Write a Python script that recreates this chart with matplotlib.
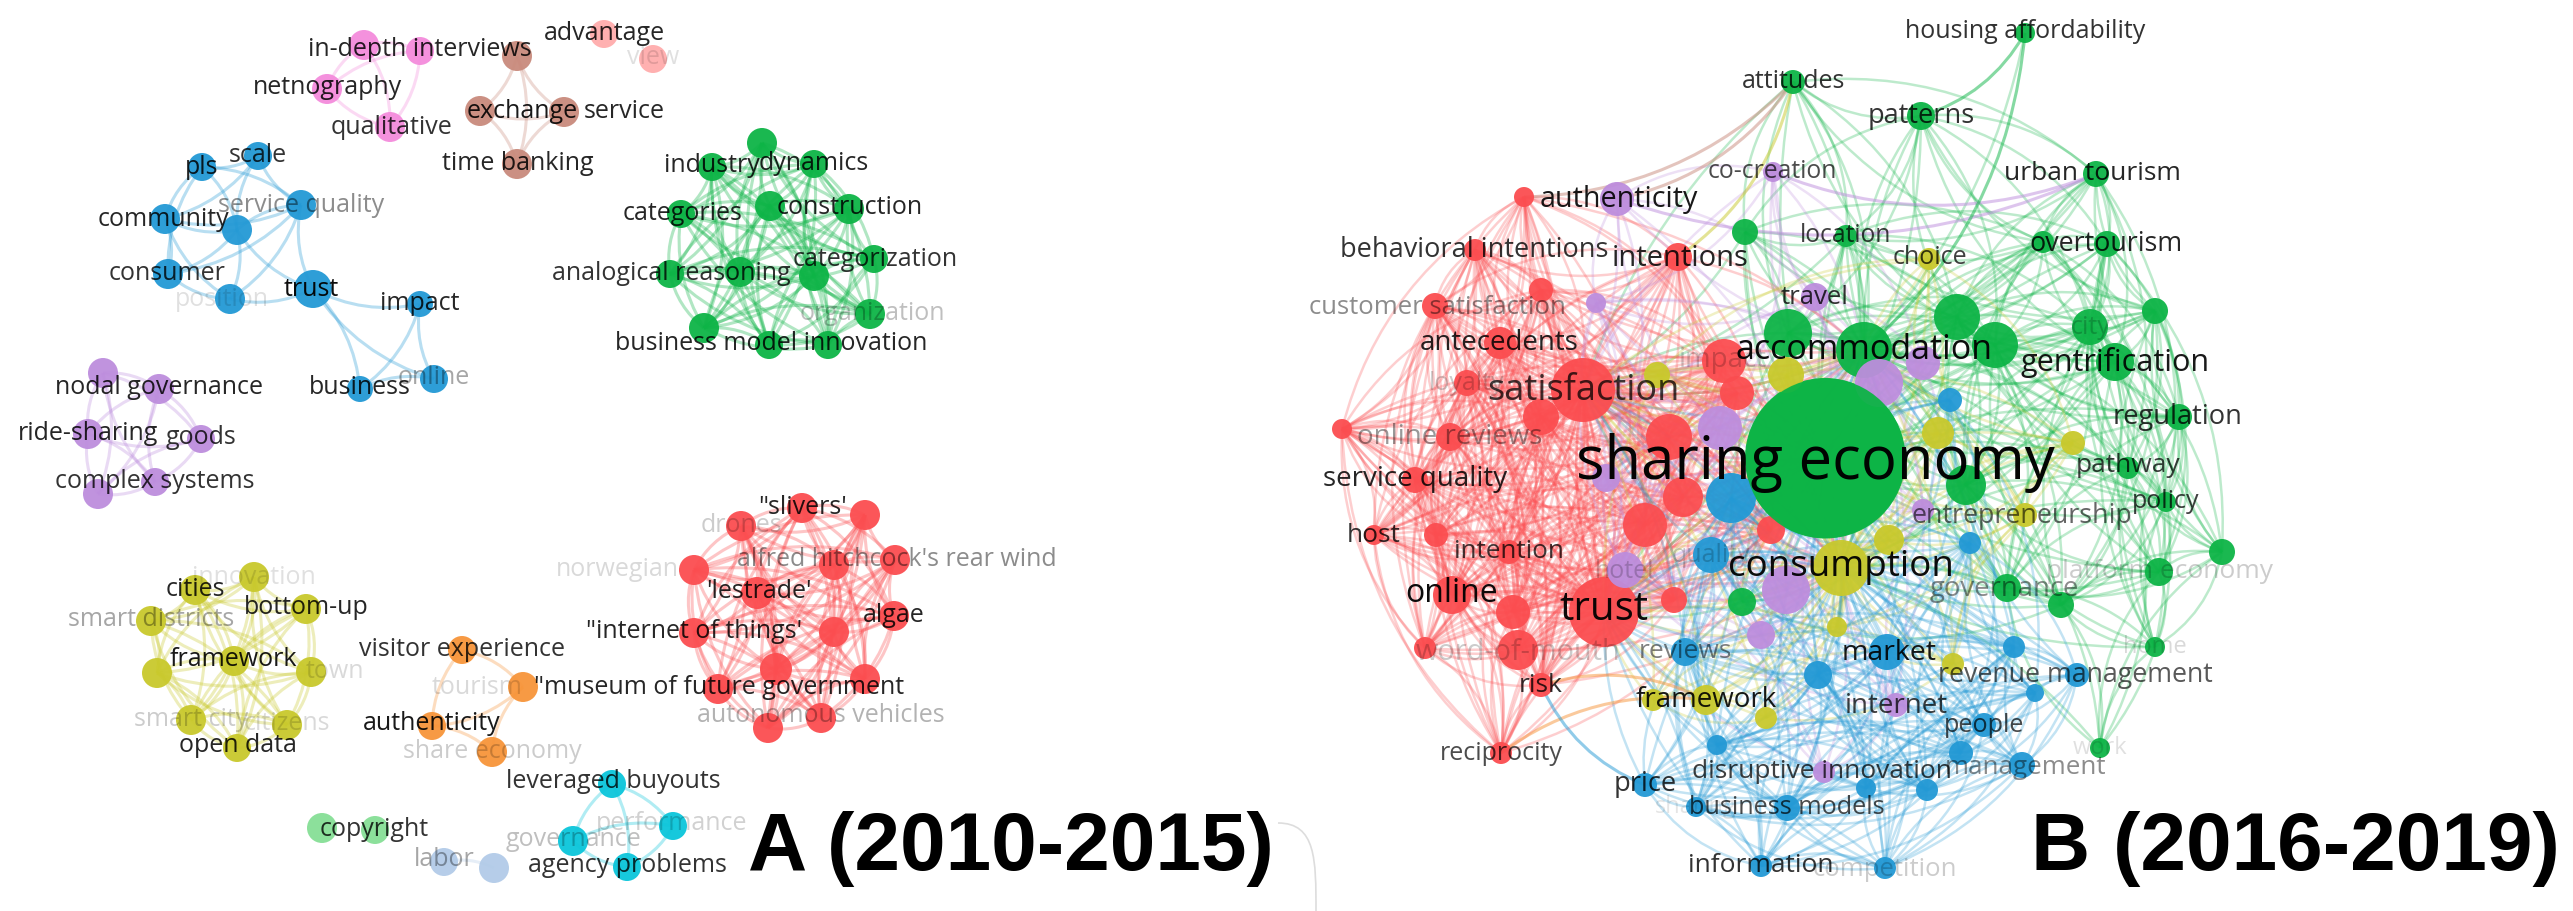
import itertools
import matplotlib
matplotlib.use("Agg")
import matplotlib.pyplot as plt
import numpy as np
from matplotlib.collections import PathCollection
from matplotlib.path import Path
from matplotlib.patches import PathPatch

plt.rcParams['font.family'] = ['Open Sans', 'DejaVu Sans']

COLORS = {
    "red": "#fb4d50", "green": "#0db446", "blue": "#2399d5", "yellow": "#c9c92c",
    "purple": "#bd8ddd", "cyan": "#0ac5da", "orange": "#f7953a", "brown": "#c98a7c",
    "pink": "#f48bdc", "salmon": "#ffacac", "lgreen": "#86df96", "lblue": "#b2cbe8",
}

# panel A clusters (x, y, radius)
a_pink = ([364, 420, 327, 390], [45, 51, 89, 127], [15, 14, 15, 15])
a_salmon = ([604, 653], [34, 59], [14, 14])
a_brown = ([517, 480, 564, 517], [56, 111, 112, 164], [15, 15, 15, 15])
a_blue = ([258, 202, 301, 165, 237, 168, 313, 230, 420, 360, 434],
          [156, 167, 205, 219, 230, 274, 289, 299, 304, 389, 379],
          [14, 14, 15, 15, 15, 15, 19, 15, 13, 13, 14])
a_green = ([762, 712, 814, 681, 770, 849, 874, 670, 740, 814, 870, 704, 769, 828],
           [143, 167, 164, 214, 206, 209, 259, 274, 272, 276, 314, 328, 345, 345],
           [15, 14, 14, 14, 15, 15, 14, 14, 15, 15, 15, 15, 14, 14])
a_purple = ([103, 159, 88, 201, 155, 98], [373, 389, 434, 439, 482, 494], [15, 15, 15, 14, 14, 15])
a_yellow = ([254, 195, 306, 151, 157, 234, 311, 191, 287, 237],
            [577, 590, 609, 621, 673, 661, 672, 720, 725, 748],
            [15, 15, 15, 15, 15, 15, 15, 15, 15, 14])
a_orange = ([462, 523, 432, 492], [650, 687, 726, 752], [14, 15, 14, 15])
a_red = ([802, 865, 741, 694, 834, 895, 757, 894, 694, 834, 776, 865, 718, 821, 768],
         [508, 515, 526, 570, 565, 560, 593, 616, 633, 632, 669, 679, 689, 718, 728],
         [15, 15, 15, 15, 15, 15, 16, 15, 15, 15, 16, 15, 15, 15, 15])
a_cyan = ([612, 673, 573, 627], [784, 826, 841, 867], [14, 14, 15, 14])
a_lgreen = ([322, 375], [828, 830], [15, 14])
a_lblue = ([444, 494], [862, 868], [14, 15])

a_blue_edges = [(0, 1), (0, 2), (0, 3), (0, 4), (1, 2), (1, 3), (1, 4), (1, 5), (2, 3), (2, 4), (2, 5),
                (2, 6), (2, 7), (3, 4), (3, 5), (3, 7), (4, 5), (4, 6), (4, 7), (5, 7), (6, 7),
                (6, 8), (6, 9), (6, 10), (8, 9), (8, 10), (9, 10)]
a_pink_edges = [(0, 1), (0, 2), (0, 3), (1, 2), (1, 3), (2, 3)]
a_orange_edges = [(0, 1), (0, 2), (1, 2), (1, 3), (2, 3)]

a_labels = ["in-depth interviews", "netnography", "qualitative", "advantage", "view", "exchange", "service",
            "time banking", "scale", "pls", "service quality", "community", "consumer", "trust", "position",
            "impact", "business", "online", "industry", "dynamics", "categories", "construction",
            "categorization", "analogical reasoning", "organization", "business model innovation",
            "nodal governance", "ride-sharing", "goods", "complex systems", "innovation", "cities", "bottom-up",
            "smart districts", "framework", "town", "smart city", "citizens", "open data", "visitor experience",
            "tourism", "\"museum of future government", "authenticity", "share economy", "\"slivers'", "drones",
            "alfred hitchcock's rear wind", "norwegian", "'lestrade'", "algae", "\"internet of things'",
            "autonomous vehicles", "leveraged buyouts", "performance", "governance", "agency problems",
            "copyright", "labor"]
a_label_x = [420, 327, 392, 604, 653, 522, 624, 518, 258, 202, 301, 163, 167, 311, 222, 420, 360, 434, 712,
             814, 683, 850, 875, 671, 872, 771, 159, 88, 201, 155, 254, 195, 306, 151, 233, 335, 191, 287,
             238, 462, 477, 719, 432, 492, 802, 741, 897, 617, 759, 894, 694, 821, 613, 672, 573, 627, 374, 444]
a_label_y = [49, 88, 127, 33, 58, 112, 112, 163, 155, 167, 205, 219, 273, 289, 299, 303, 388, 378, 166, 163,
             213, 208, 259, 273, 313, 343, 388, 433, 438, 482, 577, 589, 608, 620, 659, 672, 719, 724, 746,
             649, 687, 687, 724, 752, 507, 525, 559, 570, 592, 616, 632, 715, 782, 824, 840, 866, 829, 860]
a_label_alpha = [.85, .85, .8, .85, .12, .9, .85, .85, .8, .85, .45, .85, .8, .95, .12, .85, .85, .35, .85,
                 .85, .85, .85, .8, .8, .25, .85, .85, .85, .8, .8, .12, .85, .85, .35, .9, .15, .2, .15, .85,
                 .8, .15, .85, .9, .2, .85, .2, .45, .15, .85, .85, .85, .3, .8, .18, .25, .8, .8, .35]
a_label_size = [18] * len(a_labels)

# panel B clusters (x, y, radius)
b_green = ([2025, 1793, 1921, 2096, 1745, 1846, 2043, 2107, 2155, 2090, 1957, 1788, 1864, 1995, 2115, 2179,
            1825, 2128, 1966, 2166, 2222, 2159, 2007, 2061, 1742, 2155, 2100],
           [33, 82, 116, 174, 232, 236, 242, 244, 311, 327, 317, 333, 350, 345, 362, 417,
            458, 468, 485, 502, 552, 572, 588, 605, 602, 647, 748],
           [10, 12, 14, 13, 13, 11, 11, 13, 13, 18, 23, 24, 28, 23, 19, 13,
            80, 11, 20, 10, 13, 14, 14, 13, 14, 10, 10])
b_red = ([1524, 1475, 1678, 1541, 1435, 1500, 1724, 1467, 1583, 1541, 1737, 1342, 1450, 1669, 1415, 1683, 1645,
          1771, 1436, 1374, 1509, 1452, 1604, 1513, 1674, 1518, 1425, 1541, 1501],
         [197, 250, 257, 290, 306, 343, 361, 383, 390, 417, 393, 429, 437, 437, 480, 497, 525,
          530, 535, 535, 552, 595, 612, 612, 600, 650, 648, 685, 753],
         [10, 11, 14, 12, 13, 16, 22, 13, 32, 18, 17, 10, 14, 23, 13, 20, 22,
          14, 12, 10, 12, 19, 35, 17, 13, 20, 11, 12, 11])
b_purple = ([1773, 1617, 1596, 1815, 1923, 1879, 1720, 1606, 1923, 1625, 1786, 1761, 1896, 1824],
            [172, 199, 303, 297, 363, 383, 428, 478, 510, 570, 590, 635, 705, 772],
            [10, 17, 10, 14, 17, 24, 22, 14, 11, 18, 24, 14, 12, 11])
b_yellow = ([1929, 1657, 1786, 1938, 2073, 2025, 1889, 1841, 1837, 1953, 1706, 1653, 1766],
            [259, 375, 375, 433, 443, 515, 540, 568, 627, 664, 700, 700, 718],
            [11, 13, 18, 16, 12, 12, 15, 28, 10, 11, 15, 11, 11])
b_blue = ([1950, 1731, 1970, 1711, 1685, 1887, 2014, 1818, 2077, 2035, 1984, 1961, 1717, 2022, 1866, 1927, 1645,
           1696, 1787, 1761, 1885],
          [400, 498, 543, 555, 652, 652, 647, 675, 675, 693, 725, 753, 745, 765, 788, 790, 785,
           807, 808, 866, 868],
          [12, 25, 11, 18, 14, 18, 11, 14, 12, 9, 12, 12, 10, 13, 10, 11, 12, 10, 13, 11, 11])

b_labels = ["housing affordability", "attitudes", "patterns", "co-creation", "urban tourism", "authenticity",
            "location", "overtourism", "behavioral intentions", "intentions", "choice", "customer satisfaction",
            "travel", "city", "antecedents", "accommodation", "impact", "gentrification", "loyalty",
            "satisfaction", "regulation", "online reviews", "sharing economy", "pathway", "service quality",
            "policy", "entrepreneurship", "host", "intention", "quality", "consumption", "platform economy",
            "hotel", "governance", "online", "trust", "word-of-mouth", "reviews", "market", "home",
            "revenue management", "risk", "framework", "internet", "people", "work", "reciprocity",
            "disruptive innovation", "management", "price", "business models", "sharing", "information",
            "competition"]
b_label_x = [2025, 1794, 1921, 1772, 2092, 1619, 1846, 2106, 1474, 1680, 1930, 1437, 1815, 2090, 1499, 1864,
             1723, 2115, 1467, 1583, 2178, 1450, 1815, 2128, 1415, 2166, 2022, 1374, 1509, 1711, 1841, 2159,
             1625, 2004, 1452, 1604, 1518, 1685, 1889, 2155, 2075, 1541, 1706, 1896, 1984, 2100, 1501, 1822,
             2026, 1645, 1787, 1696, 1761, 1885]
b_label_y = [32, 81, 116, 171, 174, 200, 235, 244, 250, 258, 258, 307, 297, 327, 343, 350, 360, 363, 383, 391,
             417, 437, 463, 465, 479, 502, 516, 535, 551, 555, 567, 572, 572, 589, 594, 610, 652, 652, 653,
             647, 675, 685, 700, 706, 725, 748, 753, 772, 767, 784, 807, 807, 865, 869]
b_label_alpha = [.8, .8, .8, .7, .85, .9, .75, .85, .8, .85, .75, .45, .8, .2, .85, .95, .2, .9, .2, .75, .8,
                 .4, .98, .75, .85, .75, .6, .8, .75, .2, .95, .2, .2, .45, .95, .95, .2, .5, .9, .15, .65, .8,
                 .9, .75, .7, .12, .7, .75, .45, .8, .7, .1, .8, .2]
b_label_size = [18, 18, 19.5, 17.8, 19, 20.7, 17.7, 19.4, 19.5, 21, 18, 18.5, 18.5, 18, 20, 24.5, 20, 22, 18, 26,
                19.6, 20, 43, 19, 20, 18, 19.4, 19, 18.8, 18, 26.5, 19, 18, 19.8, 23, 29, 20.8, 19, 20.5, 17,
                19.3, 19, 20, 20, 18.2, 17, 18, 19, 18.7, 19.6, 18.2, 17, 19, 18.5]
b_reach = {"green": 340, "red": 420, "purple": 320, "yellow": 300, "blue": 360}

# long links between clusters: (colour, from cluster, index, to cluster, index)
b_cross_links = [("brown", "green", 1, "red", 0), ("brown", "green", 1, "purple", 1), ("yellow", "green", 1, "red", 2),
                 ("purple", "green", 3, "purple", 1), ("purple", "green", 3, "purple", 0),
                 ("green", "green", 0, "green", 2), ("green", "green", 0, "green", 12), ("orange", "red", 27, "yellow", 10),
                 ("orange", "red", 28, "yellow", 10), ("blue", "blue", 16, "red", 27)]

panel_a_title = "A (2010-2015)"
panel_b_title = "B (2016-2019)"


def curve(x0, y0, x1, y1, rad):
    # quadratic bezier, same style of arc as the network tool draws
    cx = (x0 + x1) / 2 + rad * (y1 - y0)
    cy = (y0 + y1) / 2 - rad * (x1 - x0)
    return Path([(x0, y0), (cx, cy), (x1, y1)], [Path.MOVETO, Path.CURVE3, Path.CURVE3])


def draw_edges(ax, paths, colors, lw, alpha):
    pc = PathCollection(paths, facecolors="none", edgecolors=colors, linewidths=lw, alpha=alpha, zorder=1)
    ax.add_collection(pc)


def draw_nodes(ax, x, y, r, color, z=2):
    s = (2 * np.array(r) * 0.72) ** 2
    ax.scatter(x, y, s=s, color=color, linewidths=0, alpha=0.95, zorder=z)


fig = plt.figure(figsize=(25.73, 9.11), dpi=100)
ax = fig.add_axes([0, 0, 1, 1])
ax.set_xlim(0, 2573)
ax.set_ylim(911, 0)
ax.axis("off")

# panel A
a_groups = [("pink", a_pink, a_pink_edges), ("salmon", a_salmon, []),
            ("brown", a_brown, None), ("blue", a_blue, a_blue_edges),
            ("green", a_green, None), ("purple", a_purple, None),
            ("yellow", a_yellow, None), ("orange", a_orange, a_orange_edges),
            ("red", a_red, None), ("cyan", a_cyan, None),
            ("lgreen", a_lgreen, []), ("lblue", a_lblue, [(0, 1)])]
for name, (x, y, r), edges in a_groups:
    if edges is None:
        edges = list(itertools.combinations(range(len(x)), 2))
    paths = []
    for k, (i, j) in enumerate(edges):
        rad = 0.18 if k % 2 == 0 else -0.18
        paths.append(curve(x[i], y[i], x[j], y[j], rad))
    if paths:
        draw_edges(ax, paths, COLORS[name], 2.2, 0.32)
    draw_nodes(ax, x, y, r, COLORS[name])

for t, x, y, a, s in zip(a_labels, a_label_x, a_label_y, a_label_alpha, a_label_size):
    ax.text(x, y, t, ha="center", va="center", fontsize=s, color="black", alpha=a, zorder=5)

# panel B
b_groups = {"green": b_green, "red": b_red, "purple": b_purple, "yellow": b_yellow, "blue": b_blue}
hubs = [(b_green[0][16], b_green[1][16]), (b_green[0][12], b_green[1][12]), (b_yellow[0][7], b_yellow[1][7]),
        (b_red[0][22], b_red[1][22]), (b_red[0][8], b_red[1][8])]
for name, (x, y, r) in b_groups.items():
    paths = []
    k = 0
    for i, j in itertools.combinations(range(len(x)), 2):
        # housing affordability hangs off the rest by the cross links only
        if name == "green" and i == 0:
            continue
        if np.hypot(x[i] - x[j], y[i] - y[j]) < b_reach[name]:
            k += 1
            paths.append(curve(x[i], y[i], x[j], y[j], 0.22 if k % 2 == 0 else -0.22))
    for i in range(len(x)):
        for hx, hy in hubs:
            if np.hypot(x[i] - hx, y[i] - hy) < 380:
                k += 1
                paths.append(curve(x[i], y[i], hx, hy, 0.14 if k % 2 == 0 else -0.14))
    draw_edges(ax, paths, COLORS[name], 1.8, 0.27)

for color, c0, i, c1, j in b_cross_links:
    p = curve(b_groups[c0][0][i], b_groups[c0][1][i], b_groups[c1][0][j], b_groups[c1][1][j], 0.2)
    draw_edges(ax, [p], COLORS[color], 2.2, 0.5)

for n, (x, y, r) in b_groups.items():
    draw_nodes(ax, x, y, r, COLORS[n], z=2)
# the big node goes on top of its neighbours
draw_nodes(ax, [b_green[0][16]], [b_green[1][16]], [b_green[2][16]], COLORS["green"], z=3)

for t, x, y, a, s in zip(b_labels, b_label_x, b_label_y, b_label_alpha, b_label_size):
    ax.text(x, y, t, ha="center", va="center", fontsize=s, color="black", alpha=a, zorder=5)

# panel tags
ax.text(1011, 870, panel_a_title, ha="center", va="baseline", fontsize=59, fontweight="bold",
        family="Liberation Sans", color="black", zorder=6)
ax.text(2295, 870, panel_b_title, ha="center", va="baseline", fontsize=59, fontweight="bold",
        family="Liberation Sans", color="black", zorder=6)

# stray callout line left in the source screenshot
ax.add_patch(PathPatch(Path([(1278, 823), (1316, 823), (1316, 860), (1316, 911)],
                            [Path.MOVETO, Path.CURVE4, Path.CURVE4, Path.CURVE4]),
                       facecolor="none", edgecolor="#dddddd", lw=1.2))

fig.savefig("out.png", dpi=100)
